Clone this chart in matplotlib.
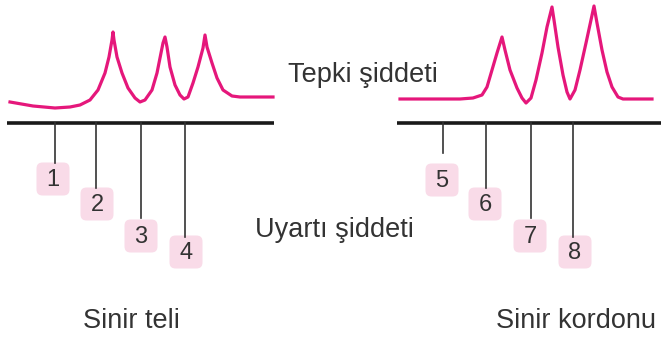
import matplotlib.pyplot as plt
from matplotlib.patches import FancyBboxPatch

# Response curves (x, y in pixels, y grows downward)
teli_x = [10, 33, 55, 70, 80, 90, 98, 105, 109, 112, 113, 114, 117, 122,
          128, 135, 140, 145, 152, 157, 161, 163, 165, 167, 170, 175, 180,
          184, 188, 193, 198, 203, 205, 207, 212, 217, 223, 232, 240, 273]
teli_y = [102, 106, 108, 107, 105, 100, 90, 73, 57, 40, 32, 40, 57, 73,
          88, 98, 102, 100, 90, 73, 53, 43, 37, 47, 67, 85, 95,
          99, 97, 83, 67, 48, 35, 47, 63, 78, 90, 96, 97, 97]

kordon_x = [400, 460, 473, 482, 487, 492, 497, 502, 505, 510, 517, 522, 526,
            531, 536, 542, 547, 552, 554, 558, 563, 567, 570, 575, 580, 586,
            591, 594, 597, 602, 607, 612, 618, 623, 652]
kordon_y = [99, 99, 98, 95, 87, 70, 53, 37, 50, 70, 88, 98, 103,
            98, 80, 53, 27, 7, 20, 47, 75, 92, 99, 90, 70, 43,
            20, 6, 23, 50, 72, 87, 97, 99, 99]

# Stimulus markers: position, line end, label box centre
stim_labels = ["1", "2", "3", "4", "5", "6", "7", "8"]
stim_x = [55, 96, 141, 185, 443, 486, 531, 573]
stim_end = [163, 188, 218, 237, 153, 188, 218, 237]
box_x = [53, 97, 141, 186, 442, 485, 530, 575]
box_y = [179, 204, 236, 252, 180, 204, 236, 252]

axis_lines = [(7, 274), (397, 661)]
base_y = 123

plt.rcParams['font.family'] = ['Liberation Sans', 'DejaVu Sans']

fig = plt.figure(figsize=(6.61, 3.40), dpi=100)
ax = fig.add_axes([0, 0, 1, 1])
ax.set_xlim(0, 661)
ax.set_ylim(340, 0)
ax.axis('off')

pink = '#e5177b'
dark = '#333333'

# curves
ax.plot(teli_x, teli_y, color=pink, lw=2.3, solid_joinstyle='round')
ax.plot(kordon_x, kordon_y, color=pink, lw=2.3, solid_joinstyle='round')

# base lines
for x0, x1 in axis_lines:
    ax.plot([x0, x1], [base_y, base_y], color='#1a1a1a', lw=2.6,
            solid_capstyle='butt')

# stimulus lines and numbered boxes
for lab, sx, se, bx, by in zip(stim_labels, stim_x, stim_end, box_x, box_y):
    ax.plot([sx, sx], [base_y, se], color=dark, lw=1.2)
    box = FancyBboxPatch((bx - 12, by - 12), 24, 24,
                         boxstyle='round,pad=4.5,rounding_size=6',
                         fc='#f9dbe8', ec='none')
    ax.add_patch(box)
    ax.text(bx, by + 1, lab, fontsize=17, color=dark,
            ha='center', va='center')

# labels
ax.text(288, 82, 'Tepki şiddeti', fontsize=19.5, color=dark,
        ha='left', va='baseline')
ax.text(255, 237, 'Uyartı şiddeti', fontsize=19.5, color=dark,
        ha='left', va='baseline')
ax.text(131, 328, 'Sinir teli', fontsize=19.5, color=dark,
        ha='center', va='baseline')
ax.text(576, 328, 'Sinir kordonu', fontsize=19.5, color=dark,
        ha='center', va='baseline')

fig.savefig('out.png', dpi=100)
